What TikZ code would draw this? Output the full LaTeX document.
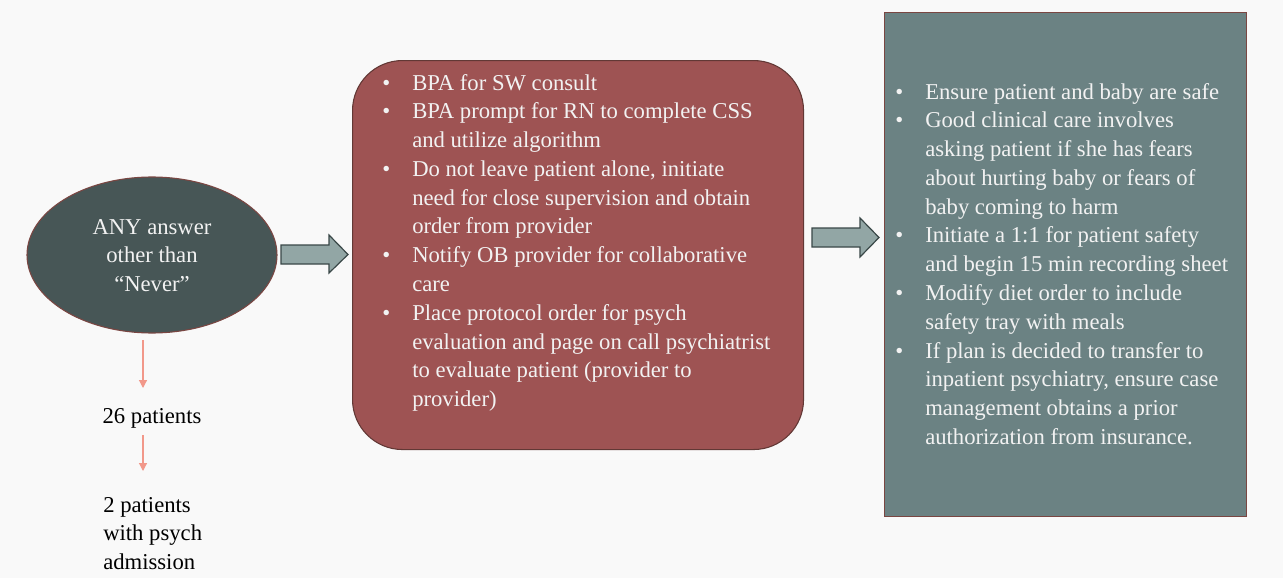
\documentclass[tikz,border=0pt]{standalone}
\usepackage{fontspec}
\setmainfont{Liberation Serif}
\usetikzlibrary{arrows.meta,shapes.geometric}
\definecolor{pagebg}{RGB}{249,249,249}
\definecolor{slate}{RGB}{71,86,86}
\definecolor{brick}{RGB}{158,83,83}
\definecolor{teal}{RGB}{107,130,131}
\definecolor{arrowfill}{RGB}{146,166,165}
\definecolor{arrowline}{RGB}{58,72,72}
\definecolor{rim}{RGB}{122,70,66}
\definecolor{salmon}{RGB}{242,152,138}
\definecolor{ink}{RGB}{242,242,242}
\newcommand{\bitem}[1]{\makebox[22.5pt][l]{\textbullet}#1}
\newcommand{\citem}[1]{\hspace*{22.5pt}#1}
\tikzset{
  bodyfont/.style={font=\fontsize{17}{21.6}\selectfont},
  listtext/.style={bodyfont, text=ink, inner sep=0pt, anchor=base west},
  plaintext/.style={bodyfont, text=black, inner sep=0pt},
  blockarrow/.style={fill=arrowfill, draw=arrowline, line width=0.9pt, line join=miter},
  thinarrow/.style={draw=salmon, line width=0.9pt, -{Triangle[length=6pt,width=6pt]}}
}
\begin{document}
\begin{tikzpicture}[x=0.75pt,y=-0.75pt]
  \fill[pagebg] (0,0) rectangle (1283,578);
  \useasboundingbox (0,0) rectangle (1283,578);

  % start ellipse
  \node[ellipse, fill=slate, draw=rim, line width=0.8pt,
        minimum width=250*0.75pt, minimum height=156*0.75pt, inner sep=0pt] (start) at (152,255) {};
  \node[bodyfont, text=ink, inner sep=0pt, anchor=base] (starttext) at (152,234)
       {\begin{tabular}[t]{@{}c@{}}ANY answer\\ other than\\ ``Never''\end{tabular}};

  % counts below the ellipse
  \node[plaintext, anchor=base] (p26) at (152,423) {26 patients};
  \node[plaintext, anchor=base west] (p2) at (103,512)
       {\begin{tabular}[t]{@{}l@{}}2 patients\\ with psych\\ admission\end{tabular}};
  \coordinate (a1s) at (143,340);
  \coordinate (a1e) at (143,388);
  \coordinate (a2s) at (143,435);
  \coordinate (a2e) at (143,471);
  \draw[thinarrow] (a1s) -- (a1e);
  \draw[thinarrow] (a2s) -- (a2e);

  % first action box
  \node[draw=rim!80!black, fill=brick, line width=0.8pt, rounded corners=50*0.75pt,
        minimum width=451*0.75pt, minimum height=389*0.75pt, anchor=north west] (actions) at (352,60) {};
  \node[listtext] (actionstext) at (382,90) {\begin{tabular}[t]{@{}l@{}}
    \bitem{BPA for SW consult}\\
    \bitem{BPA prompt for RN to complete CSS}\\
    \citem{and utilize algorithm}\\
    \bitem{Do not leave patient alone, initiate}\\
    \citem{need for close supervision and obtain}\\
    \citem{order from provider}\\
    \bitem{Notify OB provider for collaborative}\\
    \citem{care}\\
    \bitem{Place protocol order for psych}\\
    \citem{evaluation and page on call psychiatrist}\\
    \citem{to evaluate patient (provider to}\\
    \citem{provider)}
  \end{tabular}};

  % second action box
  \node[draw=rim, fill=teal, line width=1pt,
        minimum width=362*0.75pt, minimum height=504*0.75pt, anchor=north west] (safety) at (884,12) {};
  \node[listtext] (safetytext) at (895,99) {\begin{tabular}[t]{@{}l@{}}
    \bitem{Ensure patient and baby are safe}\\
    \bitem{Good clinical care involves}\\
    \citem{asking patient if she has fears}\\
    \citem{about hurting baby or fears of}\\
    \citem{baby coming to harm}\\
    \bitem{Initiate a 1:1 for patient safety}\\
    \citem{and begin 15 min recording sheet}\\
    \bitem{Modify diet order to include}\\
    \citem{safety tray with meals}\\
    \bitem{If plan is decided to transfer to}\\
    \citem{inpatient psychiatry, ensure case}\\
    \citem{management obtains a prior}\\
    \citem{authorization from insurance.}
  \end{tabular}};

  % block arrows between the stages
  \draw[blockarrow] (281,245) -- (329,245) -- (329,235) -- (348,254.5)
        -- (329,273) -- (329,264) -- (281,264) -- cycle;
  \draw[blockarrow] (812,228) -- (860,228) -- (860,218) -- (879,237.5)
        -- (860,257) -- (860,247) -- (812,247) -- cycle;
\end{tikzpicture}
\end{document}
